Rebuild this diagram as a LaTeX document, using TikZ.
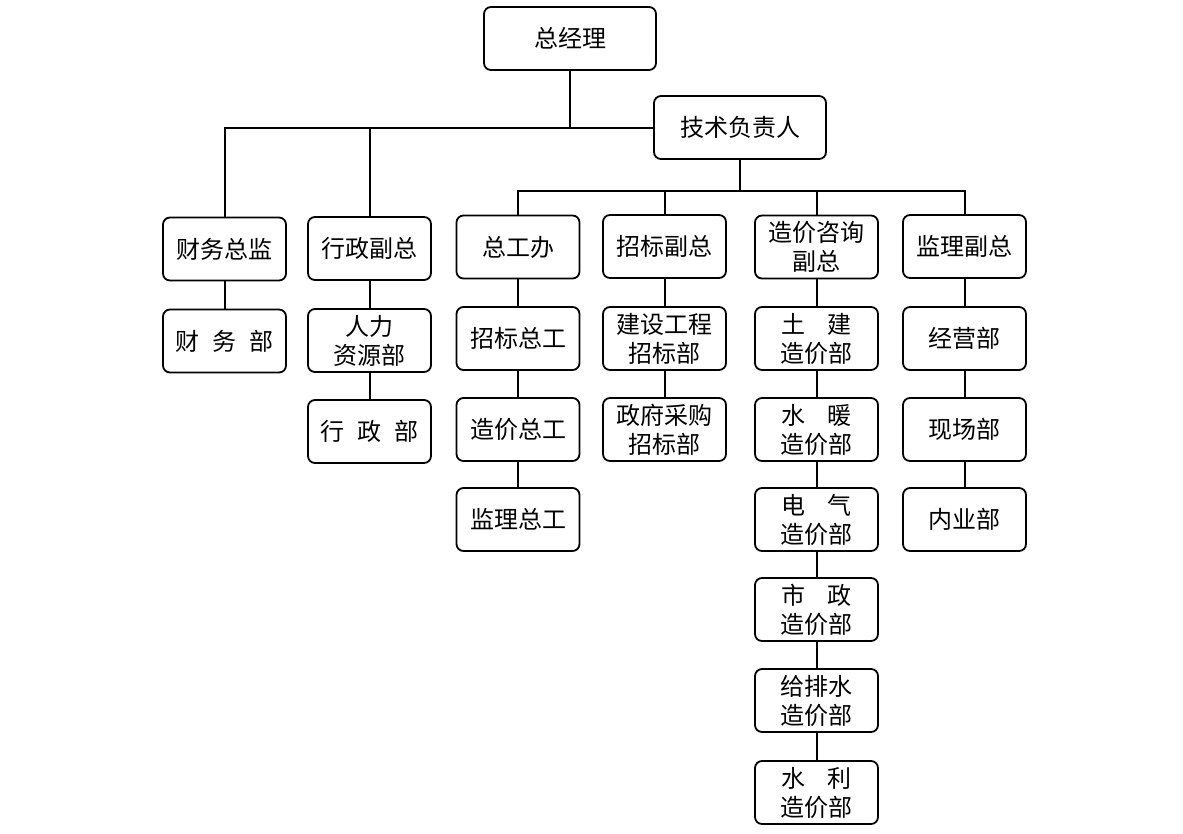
\documentclass[tikz,border=0pt]{standalone}
\usepackage{fontspec}
\setmainfont{Noto Sans CJK SC}
\usetikzlibrary{positioning}

\begin{document}
\begin{tikzpicture}[x=1pt,y=-1pt,
box/.style={draw,rounded corners=7pt,line width=1.8pt,minimum width=123pt,minimum height=63pt,align=center,inner sep=1pt,font=\fontsize{24}{29}\selectfont},
topbox/.style={box,minimum width=172pt},
link/.style={line width=2pt}
]
\useasboundingbox (0,0) rectangle (1183,833);
% top
\node[topbox] (gm) at (570,38.5) {总经理};
\node[topbox] (tech) at (740,127.5) {技术负责人};
% row 1
\node[box] (fin) at (224.5,249) {财务总监};
\node[box] (admin) at (369.5,248.5) {行政副总};
\node[box] (office) at (518,247) {总工办};
\node[box] (bid) at (664.5,246.5) {招标副总};
\node[box] (cost) at (816.5,247) {造价咨询\\副总};
\node[box] (supv) at (964.5,246.5) {监理副总};
% row 2
\node[box] (findept) at (224.5,341) {财\hspace{0.55em}务\hspace{0.55em}部};
\node[box] (hr) at (369.5,340.5) {人力\\资源部};
\node[box] (bidchief) at (518,338.5) {招标总工};
\node[box] (build) at (664.5,338.5) {建设工程\\招标部};
\node[box] (civil) at (816.5,338.5) {土\hspace{0.9em}建\\造价部};
\node[box] (biz) at (964.5,338.5) {经营部};
% row 3
\node[box] (admindept) at (369.5,431.5) {行\hspace{0.55em}政\hspace{0.55em}部};
\node[box] (costchief) at (518,429.5) {造价总工};
\node[box] (gov) at (664.5,429.5) {政府采购\\招标部};
\node[box] (hvac) at (816.5,429.5) {水\hspace{0.9em}暖\\造价部};
\node[box] (site) at (964.5,429.5) {现场部};
% row 4 and below
\node[box] (supchief) at (518,519.5) {监理总工};
\node[box] (elec) at (816.5,519.5) {电\hspace{0.9em}气\\造价部};
\node[box] (docs) at (964.5,519.5) {内业部};
\node[box] (muni) at (816.5,609.5) {市\hspace{0.9em}政\\造价部};
\node[box] (water) at (816.5,700.5) {给排水\\造价部};
\node[box] (hydro) at (816.5,792.5) {水\hspace{0.9em}利\\造价部};

% upper bus
\draw[link] (gm.south) -- (gm.south |- tech.west);
\draw[link] (fin.north) |- (tech.west);
\draw[link] (admin.north) -- (admin.north |- tech.west);
% lower bus
\coordinate (bus) at (740,191);
\draw[link] (tech.south) -- (bus);
\draw[link] (office.north) |- (bus);
\draw[link] (supv.north) |- (bus);
\draw[link] (bid.north) -- (bid.north |- bus);
\draw[link] (cost.north) -- (cost.north |- bus);
% columns
\draw[link] (fin) -- (findept);
\draw[link] (admin) -- (hr);
\draw[link] (hr) -- (admindept);
\draw[link] (office) -- (bidchief);
\draw[link] (bidchief) -- (costchief);
\draw[link] (costchief) -- (supchief);
\draw[link] (bid) -- (build);
\draw[link] (build) -- (gov);
\draw[link] (cost) -- (civil);
\draw[link] (civil) -- (hvac);
\draw[link] (hvac) -- (elec);
\draw[link] (elec) -- (muni);
\draw[link] (muni) -- (water);
\draw[link] (water) -- (hydro);
\draw[link] (supv) -- (biz);
\draw[link] (biz) -- (site);
\draw[link] (site) -- (docs);
\end{tikzpicture}
\end{document}
